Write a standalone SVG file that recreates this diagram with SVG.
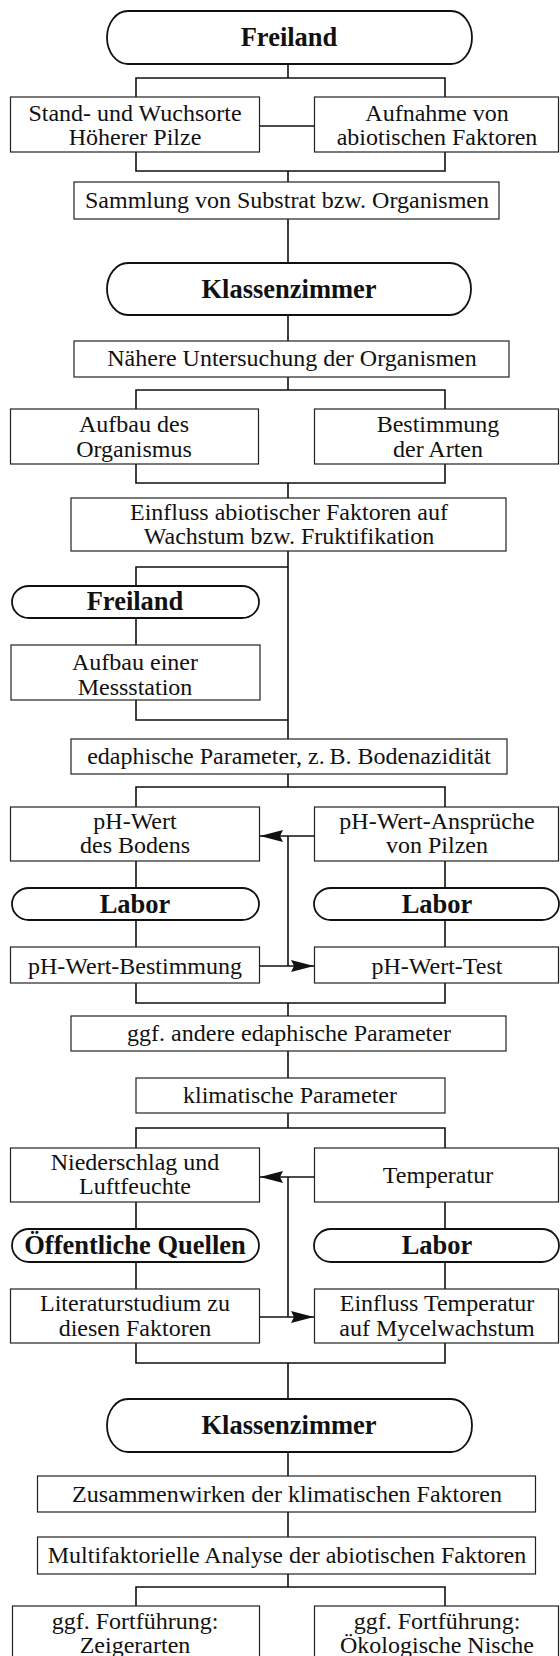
<svg xmlns="http://www.w3.org/2000/svg" width="560" height="1656" viewBox="0 0 560 1656">
<style>
  .box { fill: #fff; stroke: #222; stroke-width: 1.2; }
  .term { fill: #fff; stroke: #111; stroke-width: 1.8; }
  .t { font-family: "Liberation Serif", "Times New Roman", serif; font-size: 24px; fill: #111; text-anchor: middle; }
  .h { font-family: "Liberation Serif", "Times New Roman", serif; font-size: 26.5px; font-weight: bold; fill: #111; text-anchor: middle; }
  .c { fill: none; stroke: #111; stroke-width: 1.6; }
</style>
<defs>
  <marker id="ah" markerUnits="userSpaceOnUse" markerWidth="23" markerHeight="12" refX="23" refY="6" orient="auto">
    <path d="M0,0 L23,6 L0,12 L3,6 z" fill="#111"/>
  </marker>
</defs>
<rect width="560" height="1656" fill="#fff"/>

<g id="connectors">
  <path class="c" d="M288,64 V78 M136,97 V78 H445 V97"/>
  <path class="c" d="M259.5,126 H314.5"/>
  <path class="c" d="M136,152 V171 H445 V152 M288,171 V182"/>
  <path class="c" d="M288,219 V263"/>
  <path class="c" d="M288,315 V341"/>
  <path class="c" d="M288,377 V390 M136,409 V390 H445 V409"/>
  <path class="c" d="M136,464 V483 H445 V464 M288,483 V498"/>
  <path class="c" d="M288,551 V739 M288,567 H136 V586"/>
  <path class="c" d="M136,618 V645"/>
  <path class="c" d="M136,700 V720 H288"/>
  <path class="c" d="M288,774 V787 M136,807 V787 H445 V807"/>
  <path class="c" d="M136,861 V888 M445,861 V888"/>
  <path class="c" d="M136,920 V947 M445,920 V947"/>
  <path class="c" d="M314.5,836 H260" marker-end="url(#ah)"/>
  <path class="c" d="M288,836 V966"/>
  <path class="c" d="M259.5,966 H314" marker-end="url(#ah)"/>
  <path class="c" d="M136,983 V1003 H445 V983 M288,1003 V1016"/>
  <path class="c" d="M288,1051 V1078"/>
  <path class="c" d="M288,1113 V1128 M136,1148 V1128 H445 V1148"/>
  <path class="c" d="M136,1202 V1229 M445,1202 V1229"/>
  <path class="c" d="M136,1262 V1289 M445,1262 V1289"/>
  <path class="c" d="M314.5,1177 H260" marker-end="url(#ah)"/>
  <path class="c" d="M288,1177 V1317"/>
  <path class="c" d="M259.5,1317 H314" marker-end="url(#ah)"/>
  <path class="c" d="M136,1343 V1363 H445 V1343 M288,1363 V1399"/>
  <path class="c" d="M288,1452 V1476"/>
  <path class="c" d="M288,1512 V1537"/>
  <path class="c" d="M288,1574 V1587 M136,1606 V1587 H445 V1606"/>
</g>

<g id="t-freiland1">
  <rect class="term" x="107" y="11" width="365" height="53" rx="21" ry="26.5"/>
  <text class="h" x="289" y="46">Freiland</text>
</g>
<g id="n-standorte">
  <rect class="box" x="10.5" y="97" width="249" height="55"/>
  <text class="t" x="135" y="121">Stand- und Wuchsorte</text>
  <text class="t" x="135" y="145">Höherer Pilze</text>
</g>
<g id="n-aufnahme">
  <rect class="box" x="314.5" y="97" width="244" height="55"/>
  <text class="t" x="437" y="121">Aufnahme von</text>
  <text class="t" x="437" y="145">abiotischen Faktoren</text>
</g>
<g id="n-sammlung">
  <rect class="box" x="74" y="182" width="425" height="37"/>
  <text class="t" x="287" y="208">Sammlung von Substrat bzw. Organismen</text>
</g>
<g id="t-klassenzimmer1">
  <rect class="term" x="107" y="263" width="364" height="52" rx="21" ry="26"/>
  <text class="h" x="289" y="298">Klassenzimmer</text>
</g>
<g id="n-naehere">
  <rect class="box" x="74" y="341" width="435" height="36"/>
  <text class="t" x="292" y="366">Nähere Untersuchung der Organismen</text>
</g>
<g id="n-aufbau">
  <rect class="box" x="10.5" y="409" width="248" height="55"/>
  <text class="t" x="134" y="432">Aufbau des</text>
  <text class="t" x="134" y="457">Organismus</text>
</g>
<g id="n-bestimmung">
  <rect class="box" x="314.5" y="409" width="244" height="55"/>
  <text class="t" x="438" y="432">Bestimmung</text>
  <text class="t" x="438" y="457">der Arten</text>
</g>
<g id="n-einfluss">
  <rect class="box" x="71" y="498" width="435" height="53"/>
  <text class="t" x="289" y="520">Einfluss abiotischer Faktoren auf</text>
  <text class="t" x="289" y="544">Wachstum bzw. Fruktifikation</text>
</g>
<g id="t-freiland2">
  <rect class="term" x="12" y="586" width="247" height="32" rx="17" ry="16"/>
  <text class="h" x="135" y="610">Freiland</text>
</g>
<g id="n-messstation">
  <rect class="box" x="11" y="645" width="249" height="55"/>
  <text class="t" x="135" y="670">Aufbau einer</text>
  <text class="t" x="135" y="695">Messstation</text>
</g>
<g id="n-edaphisch">
  <rect class="box" x="71" y="739" width="436" height="35"/>
  <text class="t" x="289" y="764">edaphische Parameter, z.&#8201;B. Bodenazidität</text>
</g>
<g id="n-phboden">
  <rect class="box" x="10.5" y="807" width="249" height="54"/>
  <text class="t" x="135" y="829">pH-Wert</text>
  <text class="t" x="135" y="853">des Bodens</text>
</g>
<g id="n-phpilze">
  <rect class="box" x="314.5" y="807" width="244" height="54"/>
  <text class="t" x="437" y="829">pH-Wert-Ansprüche</text>
  <text class="t" x="437" y="853">von Pilzen</text>
</g>
<g id="t-labor1">
  <rect class="term" x="12" y="888" width="247" height="32" rx="17" ry="16"/>
  <text class="h" x="135" y="913">Labor</text>
</g>
<g id="t-labor2">
  <rect class="term" x="314" y="888" width="245" height="32" rx="17" ry="16"/>
  <text class="h" x="437" y="913">Labor</text>
</g>
<g id="n-phbestimmung">
  <rect class="box" x="10.5" y="947" width="249" height="36"/>
  <text class="t" x="135" y="974">pH-Wert-Bestimmung</text>
</g>
<g id="n-phtest">
  <rect class="box" x="314.5" y="947" width="244" height="36"/>
  <text class="t" x="437" y="974">pH-Wert-Test</text>
</g>
<g id="n-andere">
  <rect class="box" x="71" y="1016" width="435" height="35"/>
  <text class="t" x="289" y="1041">ggf. andere edaphische Parameter</text>
</g>
<g id="n-klimatisch">
  <rect class="box" x="136" y="1078" width="309" height="35"/>
  <text class="t" x="290" y="1103">klimatische Parameter</text>
</g>
<g id="n-niederschlag">
  <rect class="box" x="10.5" y="1148" width="249" height="54"/>
  <text class="t" x="135" y="1170">Niederschlag und</text>
  <text class="t" x="135" y="1194">Luftfeuchte</text>
</g>
<g id="n-temperatur">
  <rect class="box" x="314.5" y="1148" width="244" height="54"/>
  <text class="t" x="438" y="1183">Temperatur</text>
</g>
<g id="t-quellen">
  <rect class="term" x="12" y="1229" width="247" height="33" rx="17" ry="16.5"/>
  <text class="h" x="135" y="1254">Öffentliche Quellen</text>
</g>
<g id="t-labor3">
  <rect class="term" x="314" y="1229" width="245" height="33" rx="17" ry="16.5"/>
  <text class="h" x="437" y="1254">Labor</text>
</g>
<g id="n-literatur">
  <rect class="box" x="10.5" y="1289" width="249" height="54"/>
  <text class="t" x="135" y="1311">Literaturstudium zu</text>
  <text class="t" x="135" y="1336">diesen Faktoren</text>
</g>
<g id="n-mycel">
  <rect class="box" x="314.5" y="1289" width="244" height="54"/>
  <text class="t" x="437" y="1311">Einfluss Temperatur</text>
  <text class="t" x="437" y="1336">auf Mycelwachstum</text>
</g>
<g id="t-klassenzimmer2">
  <rect class="term" x="107" y="1399" width="365" height="53" rx="21" ry="26.5"/>
  <text class="h" x="289" y="1434">Klassenzimmer</text>
</g>
<g id="n-zusammenwirken">
  <rect class="box" x="37.5" y="1476" width="498" height="36"/>
  <text class="t" x="287" y="1502">Zusammenwirken der klimatischen Faktoren</text>
</g>
<g id="n-multifaktoriell">
  <rect class="box" x="37.5" y="1537" width="498" height="37"/>
  <text class="t" x="287" y="1563">Multifaktorielle Analyse der abiotischen Faktoren</text>
</g>
<g id="n-zeigerarten">
  <rect class="box" x="12.5" y="1606" width="247" height="70"/>
  <text class="t" x="135" y="1629">ggf. Fortführung:</text>
  <text class="t" x="135" y="1653">Zeigerarten</text>
</g>
<g id="n-nische">
  <rect class="box" x="314.5" y="1606" width="244" height="70"/>
  <text class="t" x="437" y="1629">ggf. Fortführung:</text>
  <text class="t" x="437" y="1653">Ökologische Nische</text>
</g>
</svg>
